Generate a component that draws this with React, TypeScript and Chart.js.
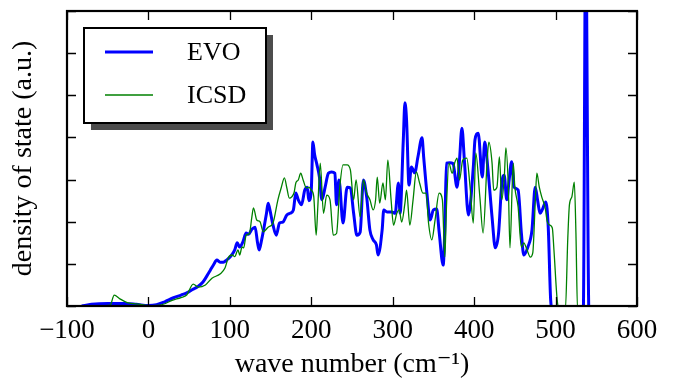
import React, { useEffect, useRef } from "react";
import { Chart, registerables } from "chart.js";

Chart.register(...registerables);

const seriesNames = ["EVO", "ICSD"];
const seriesColors = ["#0000ff", "#008000"];

const xTickValues = [-100, 0, 100, 200, 300, 400, 500, 600];
const yTickValues = [0, 1, 2, 3, 4, 5, 6, 7];

const evoX = [
  -82, -70, -50, -30, -15, 0, 10, 20, 30, 40, 47, 55, 60, 67, 72, 76, 80, 84, 88, 92, 96, 100, 103, 106, 109,
  112, 116, 120, 123, 127, 131, 134, 136, 139, 142, 145, 147, 149, 153, 157, 161, 165, 170, 174, 178, 181, 184,
  188, 192, 195, 197, 200, 202, 204, 207, 210, 213, 217, 221, 225, 229, 231, 234, 239, 244, 248, 252, 256, 260,
  264, 268, 272, 276, 280, 282, 287, 289, 293, 299, 303, 307, 309, 313, 315, 317, 320, 323, 327, 331, 336, 338,
  342, 346, 350, 354, 357, 362, 364, 366, 370, 374, 379, 382, 385, 388, 393, 399, 401, 405, 410, 413, 417, 422,
  426, 430, 434, 437, 440, 443, 446, 449, 454, 458, 461, 466, 471, 475, 478, 481, 484, 488, 491, 494, 497, 534,
  537, 541, 560,
];
const evoY = [
  0, 0.04, 0.06, 0.06, 0.04, 0.01, 0.03, 0.1, 0.19, 0.26, 0.31, 0.4, 0.45, 0.57, 0.72, 0.85, 0.98, 1.09, 1.04,
  1.04, 1.09, 1.16, 1.23, 1.33, 1.5, 1.4, 1.52, 1.73, 1.7, 1.82, 1.87, 1.5, 1.33, 1.57, 1.87, 2.2, 2.44, 2.3,
  1.92, 1.68, 1.97, 1.99, 2.16, 2.2, 2.28, 2.68, 2.52, 2.4, 2.75, 2.82, 2.5, 2.75, 3.89, 3.6, 3.35, 3.06, 2.52,
  2.82, 3.15, 3.18, 3.15, 2.4, 2.99, 1.97, 2.82, 2.8, 2.2, 1.68, 1.75, 2.99, 2.59, 1.8, 1.57, 1.45, 1.21, 1.8,
  2.28, 2.23, 2.23, 2.2, 2.92, 2.2, 3.94, 4.82, 4.41, 2.87, 3.3, 3.16, 3.54, 3.99, 3.54, 2.68, 2.04, 2.28, 2.3,
  1.76, 0.97, 1.87, 3.39, 3.4, 3.38, 2.82, 3.46, 4.22, 3.46, 2.16, 3.3, 3.94, 4.1, 3.06, 3.89, 3.23, 2.11, 1.38,
  1.73, 2.92, 3.1, 2.52, 2.99, 3.42, 2.82, 2.75, 1.73, 1.21, 1.4, 1.8, 2.82, 2.5, 2.2, 2.3, 2.47, 1.87, 0.14,
  -0.15, -0.15, 9, -0.15, -0.15,
];

const icsdX = [
  -60, -47, -42, -35, -26, -10, 0, 14, 30, 40, 47, 55, 61, 70, 78, 88, 94, 98, 103, 106, 110, 112, 115, 117,
  120, 124, 127, 129, 133, 137, 141, 147, 153, 159, 163, 167, 170, 173, 176, 179, 181, 184, 187, 190, 194, 197,
  200, 203, 206, 208, 211, 215, 219, 223, 227, 231, 235, 239, 244, 248, 252, 255, 260, 264, 268, 272, 276, 279,
  281, 284, 288, 291, 294, 298, 301, 305, 308, 311, 315, 317, 321, 325, 329, 333, 337, 341, 344, 348, 352, 357,
  361, 364, 366, 369, 373, 376, 379, 382, 386, 391, 395, 399, 402, 407, 411, 416, 418, 422, 424, 428, 431, 434,
  437, 439, 442, 444, 448, 450, 454, 458, 461, 465, 469, 472, 475, 477, 480, 483, 487, 490, 493, 496, 498, 502,
  505, 512, 515, 517, 520, 523, 525, 527, 560,
];
const icsdY = [
  0, 0.02, 0.26, 0.17, 0.08, 0.04, 0.01, 0.02, 0.14, 0.2, 0.26, 0.52, 0.45, 0.5, 0.66, 0.76, 0.9, 1.14, 1.21,
  1.17, 1.33, 1.21, 1.4, 1.38, 1.68, 1.72, 2.11, 2.33, 2.04, 2.0, 1.76, 1.87, 1.97, 2.52, 2.8, 3.04, 2.8, 2.56,
  2.59, 2.7, 2.92, 2.99, 3.15, 2.99, 2.8, 2.82, 2.75, 2.6, 1.68, 2.35, 3.39, 2.2, 2.63, 2.52, 1.68, 1.72, 2.82,
  3.35, 3.35, 3.23, 2.52, 2.99, 2.11, 2.99, 2.68, 2.52, 2.28, 2.52, 3.06, 2.44, 2.92, 2.52, 3.46, 2.52, 1.92,
  2.2, 2.28, 1.99, 2.44, 2.75, 1.92, 2.52, 3.18, 2.92, 2.68, 2.68, 1.97, 1.57, 2.04, 2.68, 2.52, 1.16, 2.35,
  3.39, 3.15, 3.39, 3.51, 2.99, 3.46, 3.51, 2.82, 1.97, 3.63, 2.59, 1.73, 3.46, 3.89, 3.39, 2.75, 2.82, 3.54,
  2.52, 3.06, 3.75, 2.82, 1.38, 3.39, 2.82, 2.35, 1.4, 1.5, 1.33, 1.16, 1.26, 2.44, 3.15, 2.82, 2.59, 2.35,
  1.99, 1.92, 1.85, 1.33, 0.14, -0.1, -0.1, 1.6, 2.4, 2.59, 2.94, 1.73, -0.1, -0.1,
];

const FONT = "'Liberation Serif', 'DejaVu Serif', serif";

const framePlugin = {
  id: "frameAndLegend",
  afterDraw(chart: any) {
    const { ctx, chartArea } = chart;
    const { left, right, top, bottom } = chartArea;
    const xs = chart.scales.x;
    const ys = chart.scales.y;
    ctx.save();
    ctx.strokeStyle = "#000";
    ctx.lineWidth = 1.3;
    const tl = 9;
    ctx.beginPath();
    for (const v of xTickValues) {
      const px = Math.round(xs.getPixelForValue(v)) + 0.5;
      ctx.moveTo(px, bottom);
      ctx.lineTo(px, bottom - tl);
      ctx.moveTo(px, top);
      ctx.lineTo(px, top + tl);
    }
    for (const v of yTickValues) {
      const py = Math.round(ys.getPixelForValue(v)) + 0.5;
      ctx.moveTo(left, py);
      ctx.lineTo(left + tl, py);
      ctx.moveTo(right, py);
      ctx.lineTo(right - tl, py);
    }
    ctx.stroke();
    ctx.lineWidth = 2.2;
    ctx.strokeRect(left, top, right - left, bottom - top);

    const bx = left + 17;
    const by = top + 17;
    const bw = 182;
    const bh = 95;
    ctx.fillStyle = "#4d4d4d";
    ctx.fillRect(bx + 7, by + 7, bw, bh);
    ctx.fillStyle = "#fff";
    ctx.fillRect(bx, by, bw, bh);
    ctx.lineWidth = 2;
    ctx.strokeStyle = "#000";
    ctx.strokeRect(bx, by, bw, bh);
    const ds = chart.data.datasets;
    const rows = [by + 24, by + 67];
    ctx.font = "26px " + FONT;
    ctx.textBaseline = "middle";
    ctx.textAlign = "left";
    for (let i = 0; i < ds.length; i++) {
      ctx.strokeStyle = ds[i].borderColor;
      ctx.lineWidth = ds[i].borderWidth;
      ctx.beginPath();
      ctx.moveTo(bx + 21, rows[i]);
      ctx.lineTo(bx + 69, rows[i]);
      ctx.stroke();
      ctx.fillStyle = "#000";
      ctx.fillText(ds[i].label, bx + 103, rows[i] + 1);
    }
    ctx.restore();
  },
};

export default function App() {
  const ref = useRef<HTMLCanvasElement | null>(null);
  useEffect(() => {
    document.body.style.margin = "0";
    const canvas = ref.current;
    if (!canvas) return;
    const chart = new Chart(canvas, {
      type: "line",
      data: {
        datasets: [
          {
            label: seriesNames[0],
            data: evoX.map((x, i) => ({ x, y: evoY[i] })),
            borderColor: seriesColors[0],
            borderWidth: 3,
            pointRadius: 0,
            cubicInterpolationMode: "monotone",
            fill: false,
            order: 1,
          },
          {
            label: seriesNames[1],
            data: icsdX.map((x, i) => ({ x, y: icsdY[i] })),
            borderColor: seriesColors[1],
            borderWidth: 1.3,
            pointRadius: 0,
            cubicInterpolationMode: "monotone",
            fill: false,
            order: 0,
          },
        ],
      },
      options: {
        responsive: false,
        animation: false,
        devicePixelRatio: 1,
        layout: { padding: { top: 11, right: 40, left: 0, bottom: 0 } },
        plugins: { legend: { display: false }, tooltip: { enabled: false } },
        scales: {
          x: {
            type: "linear",
            min: -100,
            max: 600,
            afterBuildTicks: (s: any) => {
              s.ticks = xTickValues.map((v) => ({ value: v }));
            },
            afterFit: (s: any) => {
              s.height = 74;
            },
            ticks: {
              autoSkip: false,
              maxRotation: 0,
              padding: 9,
              color: "#000",
              font: { family: FONT, size: 27 },
              callback: (v: any) => (Number(v) < 0 ? "\u2212" + Math.abs(Number(v)) : String(v)),
            },
            grid: { display: false, drawTicks: false },
            border: { display: false },
            title: {
              display: true,
              text: "wave number (cm\u207B\u00B9)",
              color: "#000",
              font: { family: FONT, size: 28, lineHeight: 1.0 },
              padding: { top: 0, bottom: 1 },
            },
          },
          y: {
            type: "linear",
            min: 0,
            max: 7,
            afterBuildTicks: (s: any) => {
              s.ticks = yTickValues.map((v) => ({ value: v }));
            },
            afterFit: (s: any) => {
              s.width = 67;
            },
            ticks: { display: false },
            grid: { display: false, drawTicks: false },
            border: { display: false },
            title: {
              display: true,
              text: "density of state (a.u.)",
              color: "#000",
              font: { family: FONT, size: 28 },
              padding: { top: 7, bottom: 0 },
            },
          },
        },
      },
      plugins: [framePlugin],
    } as any);
    return () => chart.destroy();
  }, []);
  return (
    <div style={{ position: "absolute", left: 0, top: 0, width: 677, height: 380, background: "#fff" }}>
      <canvas ref={ref} width={677} height={380} />
    </div>
  );
}
